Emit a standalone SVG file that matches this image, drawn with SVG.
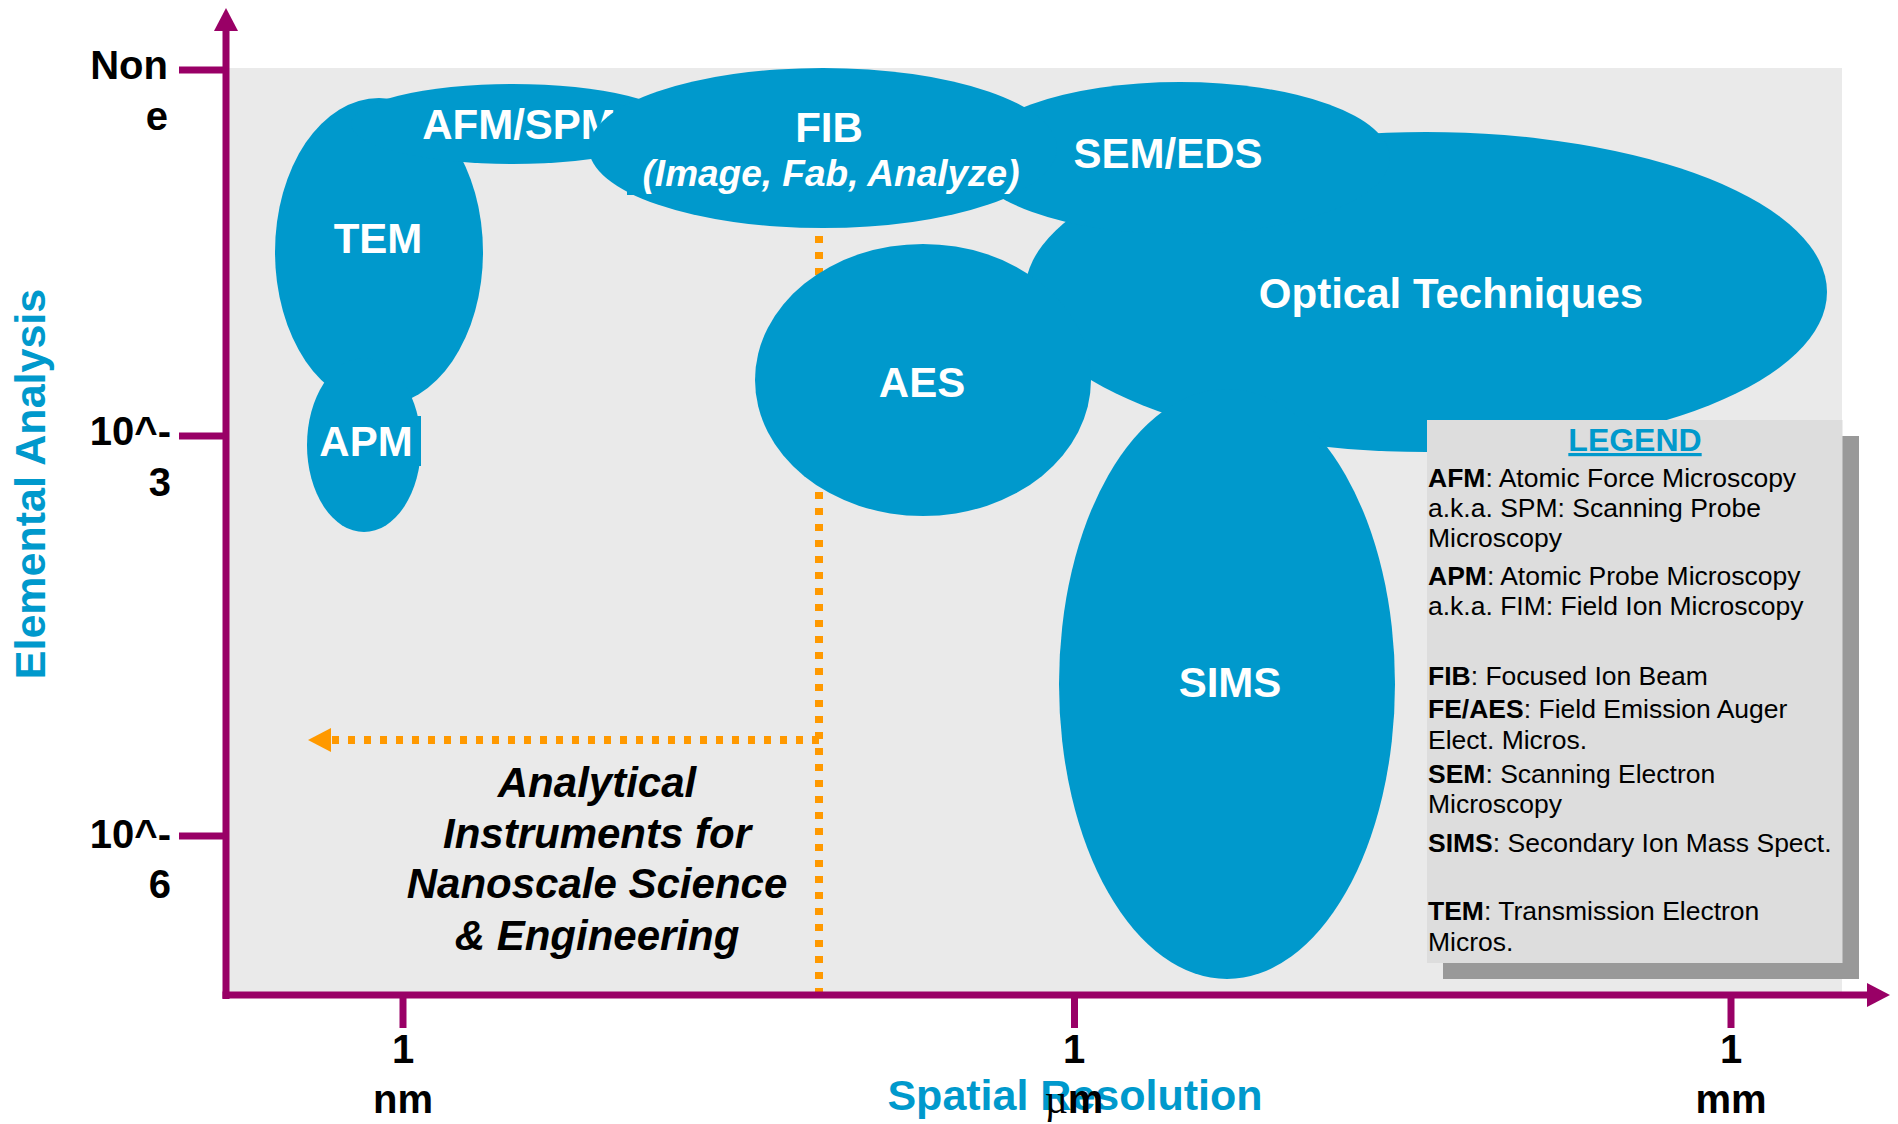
<svg xmlns="http://www.w3.org/2000/svg" width="1898" height="1124" viewBox="0 0 1898 1124">
<style>
.bg{fill:#EAEAEA}
.blob{fill:#0099CC}
.lbl{font-family:"Liberation Sans",Arial,sans-serif;font-weight:bold;font-size:42px;fill:#FFFFFF;text-anchor:middle}
.axis{stroke:#990066;stroke-width:7;fill:none}
.tk{stroke:#990066;stroke-width:7}
.ax{font-family:"Liberation Sans",Arial,sans-serif;font-weight:bold;font-size:40px;fill:#000000}
.title{font-family:"Liberation Sans",Arial,sans-serif;font-weight:bold;font-size:43px;fill:#0099CC;text-anchor:middle}
.dot{stroke:#FF9900;stroke-width:8;stroke-dasharray:7 9;fill:none}
.leg{font-family:"Liberation Sans",Arial,sans-serif;font-size:26.5px;fill:#000000}
.b{font-weight:bold}
.note{font-family:"Liberation Sans",Arial,sans-serif;font-weight:bold;font-style:italic;font-size:42px;fill:#000000;text-anchor:middle}
</style>
<defs>
<marker id="axArrow" markerUnits="userSpaceOnUse" markerWidth="23" markerHeight="24" viewBox="0 0 23 24" refX="0" refY="12" orient="auto">
<path d="M0,0 L23,12 L0,24 Z" fill="#990066"/>
</marker>
<marker id="dotArrow" markerUnits="userSpaceOnUse" markerWidth="23" markerHeight="24" viewBox="0 0 23 24" refX="0" refY="12" orient="auto">
<path d="M0,0 L23,12 L0,24 Z" fill="#FF9900"/>
</marker>
</defs>
<rect x="0" y="0" width="1898" height="1124" fill="#FFFFFF"/>
<rect class="bg" x="226" y="68" width="1616" height="927"/>

<g id="connectors">
<line class="dot" x1="819" y1="236" x2="819" y2="995"/>
<line class="dot" x1="819" y1="740" x2="331" y2="740" marker-end="url(#dotArrow)"/>
</g>

<g id="optical">
<ellipse class="blob" cx="1426" cy="292" rx="401" ry="160"/>
<text class="lbl" x="1451" y="308">Optical Techniques</text>
</g>
<g id="sem">
<ellipse class="blob" cx="1180" cy="158" rx="210" ry="76"/>
<text class="lbl" x="1168" y="168">SEM/EDS</text>
</g>
<g id="sims">
<ellipse class="blob" cx="1227" cy="684" rx="168" ry="295"/>
<text class="lbl" x="1230" y="697">SIMS</text>
</g>
<g id="aes">
<ellipse class="blob" cx="923" cy="380" rx="168" ry="136"/>
<text class="lbl" x="922" y="397">AES</text>
</g>
<g id="tem">
<ellipse class="blob" cx="379" cy="252" rx="104" ry="154"/>
<text class="lbl" x="378" y="253">TEM</text>
</g>
<g id="apm">
<ellipse class="blob" cx="364" cy="445" rx="57" ry="87"/>
<rect class="blob" x="370" y="416" width="51" height="50"/>
<text class="lbl" x="366" y="456">APM</text>
</g>
<g id="afm">
<ellipse class="blob" cx="513" cy="124" rx="162" ry="40"/>
<text class="lbl" x="519" y="139">AFM/SPM</text>
</g>
<g id="fib">
<ellipse class="blob" cx="823" cy="148" rx="234" ry="80"/>
<rect class="blob" x="627" y="160" width="395" height="35"/>
<text class="lbl" x="829" y="142">FIB</text>
<text class="lbl" x="831" y="186" style="font-size:37px;font-style:italic">(Image, Fab, Analyze)</text>
</g>

<g id="note">
<text class="note" x="597" y="797">Analytical</text>
<text class="note" x="597" y="848">Instruments for</text>
<text class="note" x="597" y="898">Nanoscale Science</text>
<text class="note" x="597" y="950">&amp; Engineering</text>
</g>

<g id="legend">
<rect x="1443" y="436" width="416" height="543" fill="#999999"/>
<rect x="1427" y="420" width="415.5" height="543" fill="#DDDDDD"/>
<text x="1635" y="451" style="font-family:'Liberation Sans',Arial,sans-serif;font-weight:bold;font-size:32px;fill:#0099CC;text-anchor:middle;text-decoration:underline">LEGEND</text>
<text class="leg" x="1428" y="487"><tspan class="b">AFM</tspan>: Atomic Force Microscopy</text>
<text class="leg" x="1428" y="517">a.k.a. SPM: Scanning Probe</text>
<text class="leg" x="1428" y="547">Microscopy</text>
<text class="leg" x="1428" y="585"><tspan class="b">APM</tspan>: Atomic Probe Microscopy</text>
<text class="leg" x="1428" y="615">a.k.a. FIM: Field Ion Microscopy</text>
<text class="leg" x="1428" y="685"><tspan class="b">FIB</tspan>: Focused Ion Beam</text>
<text class="leg" x="1428" y="718"><tspan class="b">FE/AES</tspan>: Field Emission Auger</text>
<text class="leg" x="1428" y="749">Elect. Micros.</text>
<text class="leg" x="1428" y="783"><tspan class="b">SEM</tspan>: Scanning Electron</text>
<text class="leg" x="1428" y="813">Microscopy</text>
<text class="leg" x="1428" y="852"><tspan class="b">SIMS</tspan>: Secondary Ion Mass Spect.</text>
<text class="leg" x="1428" y="920"><tspan class="b">TEM</tspan>: Transmission Electron</text>
<text class="leg" x="1428" y="951">Micros.</text>
</g>

<g id="axes">
<line class="axis" x1="226" y1="999" x2="226" y2="31" marker-end="url(#axArrow)"/>
<line class="axis" x1="222.5" y1="995" x2="1867" y2="995" marker-end="url(#axArrow)"/>
<line class="tk" x1="179" y1="70" x2="226" y2="70"/>
<line class="tk" x1="179" y1="436" x2="226" y2="436"/>
<line class="tk" x1="179" y1="836" x2="226" y2="836"/>
<line class="tk" x1="403" y1="995" x2="403" y2="1028"/>
<line class="tk" x1="1074.5" y1="995" x2="1074.5" y2="1028"/>
<line class="tk" x1="1731" y1="995" x2="1731" y2="1028"/>
<text class="ax" x="168" y="79" text-anchor="end">Non</text>
<text class="ax" x="168" y="130" text-anchor="end">e</text>
<text class="ax" x="171" y="445" text-anchor="end">10^-</text>
<text class="ax" x="171" y="496" text-anchor="end">3</text>
<text class="ax" x="171" y="848" text-anchor="end">10^-</text>
<text class="ax" x="171" y="898" text-anchor="end">6</text>
<text class="ax" x="403" y="1063" text-anchor="middle">1</text>
<text class="ax" x="403" y="1113" text-anchor="middle">nm</text>
<text class="title" x="1075" y="1110">Spatial Resolution</text>
<text class="ax" x="1074" y="1063" text-anchor="middle">1</text>
<text class="ax" x="1074" y="1113" text-anchor="middle"><tspan style="font-family:'Liberation Serif','Times New Roman',serif;font-weight:normal">µ</tspan>m</text>
<text class="ax" x="1731" y="1063" text-anchor="middle">1</text>
<text class="ax" x="1731" y="1113" text-anchor="middle">mm</text>
<text class="title" transform="translate(45,484) rotate(-90)" x="0" y="0">Elemental Analysis</text>
</g>
</svg>
